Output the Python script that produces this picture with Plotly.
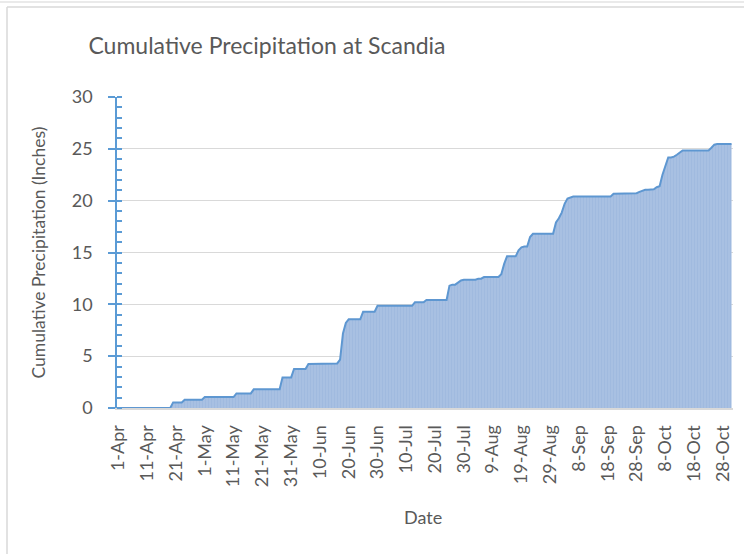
import pandas as pd
import plotly.graph_objects as go

# Categories: every day from 1-Apr to 31-Oct
dates = pd.date_range("2015-04-01", "2015-10-31", freq="D")
day_labels = [f"{d.day}-{d.strftime('%b')}" for d in dates]
tick_labels = day_labels[::10]

# Cumulative precipitation (inches)
apr = [0, 0, 0, 0, 0, 0, 0, 0, 0, 0, 0, 0, 0, 0, 0, 0, 0, 0, 0,
       0.54, 0.54, 0.54, 0.54, 0.8, 0.8, 0.8, 0.8, 0.8, 0.8, 0.8]
may = [1.06, 1.06, 1.06, 1.06, 1.06, 1.06, 1.06, 1.06, 1.06, 1.06, 1.06,
       1.41, 1.41, 1.41, 1.41, 1.41, 1.41,
       1.8, 1.8, 1.8, 1.8, 1.8, 1.8, 1.8, 1.8, 1.8, 1.8,
       2.95, 2.95, 2.95, 2.95]
jun = [3.76, 3.76, 3.76, 3.76, 3.76,
       4.24, 4.24, 4.24, 4.24, 4.24, 4.24, 4.24, 4.24, 4.24, 4.24,
       4.3, 4.66, 7.2, 8.2,
       8.55, 8.55, 8.55, 8.55, 8.55,
       9.28, 9.28, 9.28, 9.28, 9.28, 9.86]
jul = [9.86, 9.86, 9.86, 9.86, 9.86, 9.86, 9.86, 9.86, 9.86, 9.86, 9.86, 9.86,
       10.2, 10.2, 10.2, 10.2,
       10.43, 10.43, 10.43, 10.43, 10.43, 10.43, 10.43, 10.43,
       11.8, 11.9, 11.9, 12.1, 12.3, 12.37, 12.37]
aug = [12.37, 12.37, 12.37, 12.47, 12.47,
       12.63, 12.63, 12.63, 12.63, 12.63, 12.63,
       12.9, 13.9, 14.63, 14.63, 14.63, 14.63,
       15.2, 15.5, 15.58, 15.58, 16.5,
       16.8, 16.8, 16.8, 16.8, 16.8, 16.8, 16.8, 16.8, 17.9]
sep = [18.3, 18.85, 19.7, 20.2, 20.3,
       20.4, 20.4, 20.4, 20.4, 20.4, 20.4, 20.4, 20.4, 20.4, 20.4, 20.4, 20.4, 20.4, 20.4,
       20.66, 20.66, 20.66, 20.66, 20.66,
       20.72, 20.72, 20.72, 20.72, 20.85, 20.95]
oct_ = [21.05, 21.05, 21.05, 21.1, 21.3, 21.4, 22.5, 23.4, 24.17, 24.17,
        24.25, 24.43, 24.6,
        24.84, 24.84, 24.84, 24.84, 24.84, 24.84, 24.84, 24.84, 24.84, 24.84,
        25.1, 25.4, 25.46, 25.46, 25.46, 25.46, 25.46, 25.46]
cumulative = apr + may + jun + jul + aug + sep + oct_

TEXT = "#595959"
FONT = "Lato"

fig = go.Figure()
fig.add_trace(go.Scatter(
    x=day_labels, y=cumulative, mode="lines",
    line=dict(color="#5E97D1", width=2),
    fill="tozeroy", fillcolor="#A8C0E2",
    fillpattern=dict(shape="|", bgcolor="#A8C0E2", fgcolor="#97B4DC",
                     size=3, solidity=0.35),
    hoverinfo="x+y", showlegend=False,
))

fig.update_layout(
    width=744, height=554,
    margin=dict(l=117, r=11, t=97, b=146),
    paper_bgcolor="white", plot_bgcolor="white",
    font=dict(family=FONT, color=TEXT, size=18),
    title=dict(text="Cumulative Precipitation at Scandia",
               x=267/744, xref="container", xanchor="center",
               y=1-46/554, yref="container", yanchor="middle",
               font=dict(family=FONT, size=23, color=TEXT)),
    xaxis=dict(type="category", range=[-0.5, len(day_labels)-0.5],
               tickmode="array", tickvals=tick_labels, ticktext=tick_labels,
               tickangle=-90, ticks="", showgrid=False,
               showline=True, linecolor="#D9D9D9", linewidth=2,
               ticklabelstandoff=8,
               tickfont=dict(family=FONT, size=18, color=TEXT)),
    yaxis=dict(range=[0, 30], dtick=5, tick0=0,
               showgrid=True, gridcolor="#D9D9D9", gridwidth=1,
               zeroline=False,
               showline=True, linecolor="#5B9BD5", linewidth=1.5,
               ticks="outside", ticklen=7, tickcolor="#5B9BD5", tickwidth=1.5,
               minor=dict(dtick=1, ticks="inside", ticklen=5,
                          tickcolor="#5B9BD5", tickwidth=1.5, showgrid=False),
               ticklabelstandoff=12,
               tickfont=dict(family=FONT, size=18, color=TEXT)),
    annotations=[
        dict(text="Cumulative Precipitation (Inches)", xref="paper", yref="paper",
             x=(38-117)/616, y=0.5, textangle=-90, showarrow=False,
             xanchor="center", yanchor="middle",
             font=dict(family=FONT, size=17.5, color=TEXT)),
        dict(text="Date", xref="paper", yref="paper",
             x=(423-117)/616, y=(408-517)/311, showarrow=False,
             xanchor="center", yanchor="middle",
             font=dict(family=FONT, size=18, color=TEXT)),
    ],
    shapes=[
        dict(type="line", xref="paper", yref="paper",
             x0=-117/616, x1=627/616, y0=(408-2)/311, y1=(408-2)/311,
             line=dict(color="#E3E3E3", width=1.5)),
        dict(type="line", xref="paper", yref="paper",
             x0=(7-117)/616, x1=627/616, y0=(408-7)/311, y1=(408-7)/311,
             line=dict(color="#D9D9D9", width=1.5)),
        dict(type="line", xref="paper", yref="paper",
             x0=(7-117)/616, x1=(7-117)/616, y0=(408-7)/311, y1=-146/311,
             line=dict(color="#D9D9D9", width=1.5)),
    ],
)

fig.write_html("out.html",
               config={"displayModeBar": False},
               post_script="document.body.style.margin='0px';document.body.style.overflow='hidden';")
